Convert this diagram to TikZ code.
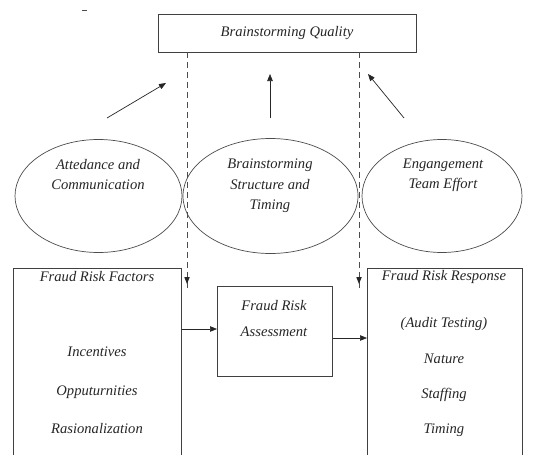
\documentclass[tikz,border=0pt]{standalone}
\usepackage{fontspec}
\setmainfont{Liberation Serif}
\usetikzlibrary{shapes.geometric,arrows.meta}
\begin{document}
\begin{tikzpicture}[x=1pt,y=-1pt,
  line width=0.7pt,
  every node/.style={font=\itshape\fontsize{14.6}{20}\selectfont, text=black!85},
  box/.style={draw=black!75, rectangle, inner sep=0pt},
  oval/.style={draw=black!70, ellipse, inner sep=0pt},
  arr/.style={-{Triangle[length=7pt,width=5.5pt]}, draw=black!85},
  dsh/.style={dash pattern=on 6pt off 4pt, draw=black!70},
  lbl/.style={anchor=center, inner sep=0pt}]
\clip (0,0) rectangle (533,455);
\fill[white] (0,0) rectangle (533,455);
% stray mark
\draw[black!70, line width=0.5pt] (82,10) -- (87,10);
% top box
\node[box, minimum width=258pt, minimum height=38pt] (tq) at (287,33) {};
\node[lbl] (tqt) at (287,33) {Brainstorming Quality};
% ellipses
\node[oval, minimum width=167pt, minimum height=113pt] (e1) at (98.5,196) {};
\node[oval, minimum width=175pt, minimum height=115pt] (e2) at (270.5,196) {};
\node[oval, minimum width=160pt, minimum height=113pt] (e3) at (442,196) {};
\node[lbl] (e1a) at (98,165) {Attedance and};
\node[lbl] (e1b) at (98,185) {Communication};
\node[lbl] (e2a) at (270,165) {Brainstorming};
\node[lbl] (e2b) at (270,185) {Structure and};
\node[lbl] (e2c) at (270,206) {Timing};
\node[lbl] (e3a) at (443,165) {Engangement};
\node[lbl] (e3b) at (443,185) {Team Effort};
% arrows to top
\coordinate (a1s) at (107,118);
\coordinate (a1e) at (166,83);
\coordinate (a2s) at (270,118);
\coordinate (a2e) at (270,74);
\coordinate (a3s) at (404,118);
\coordinate (a3e) at (368,74);
\draw[arr] (a1s) -- (a1e);
\draw[arr] (a2s) -- (a2e);
\draw[arr] (a3s) -- (a3e);
% bottom boxes
\node[box, minimum width=168pt, minimum height=200pt, anchor=north west] (fr) at (13,268) {};
\node[box, minimum width=115pt, minimum height=90pt, anchor=north west] (fa) at (217,286) {};
\node[box, minimum width=155pt, minimum height=200pt, anchor=north west] (rr) at (367,268) {};
\node[lbl] (fr1) at (97,277) {Fraud Risk Factors};
\node[lbl] (fr2) at (97,352) {Incentives};
\node[lbl] (fr3) at (97,392) {Opputurnities};
\node[lbl] (fr4) at (97,429) {Rasionalization};
\node[lbl] (fa1) at (274,306) {Fraud Risk};
\node[lbl] (fa2) at (274,332) {Assessment};
\node[lbl] (rr1) at (444,277) {Fraud Risk Response};
\node[lbl] (rr2) at (444,324) {(Audit Testing)};
\node[lbl] (rr3) at (444,359) {Nature};
\node[lbl] (rr4) at (444,395) {Staffing};
\node[lbl] (rr5) at (444,430) {Timing};
% dashed arrows
\coordinate (d1) at (187,284);
\coordinate (d2) at (359,284);
\draw[dsh] (tq.south -| d1) -- ([yshift=-7pt]d1);
\draw[dsh] (tq.south -| d2) -- ([yshift=-7pt]d2);
\fill[black!85] (d1) -- ++(-2.75,-7) -- ++(5.5,0) -- cycle;
\fill[black!85] (d2) -- ++(-2.75,-7) -- ++(5.5,0) -- cycle;
% flow arrows
\draw[arr] (fr.east |- 0,329) -- (fa.west |- 0,329);
\draw[arr] (fa.east |- 0,338) -- (rr.west |- 0,338);
\end{tikzpicture}
\end{document}
